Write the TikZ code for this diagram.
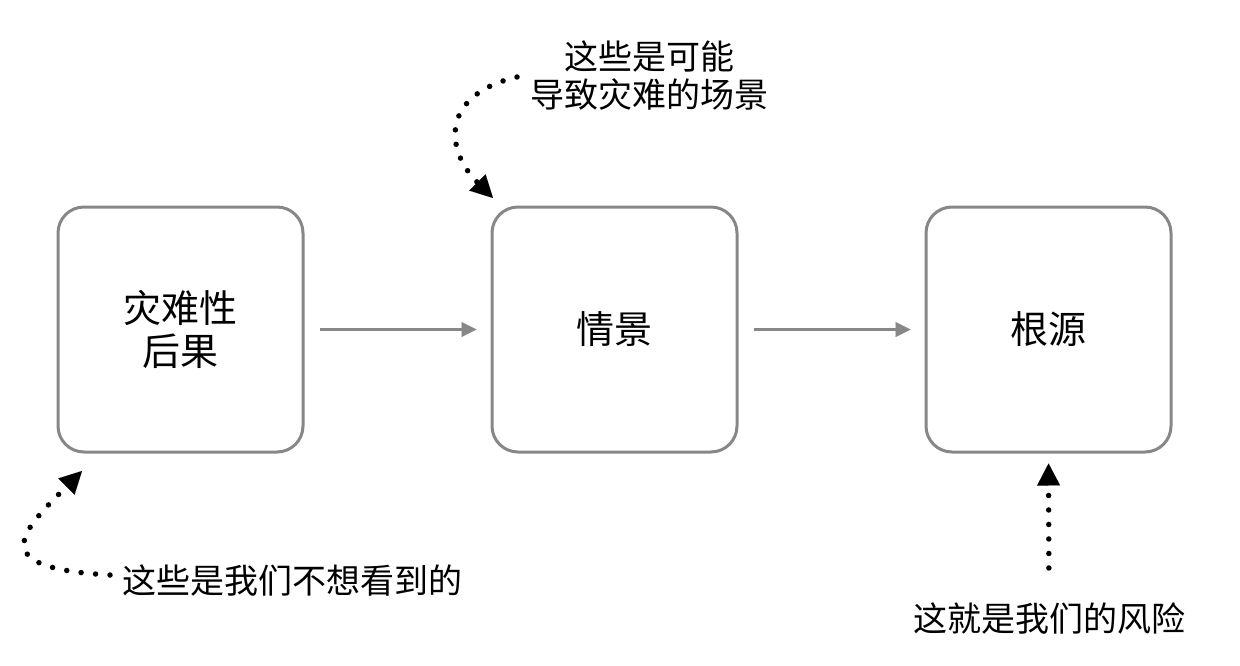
\documentclass[tikz,border=0pt]{standalone}
\usepackage{fontspec}
\setmainfont{Noto Sans CJK SC}
\usetikzlibrary{arrows.meta}
\begin{document}
\begin{tikzpicture}[x=1pt,y=-1pt,
  box/.style={draw=black!47,line width=3pt,rounded corners=26pt,minimum width=245pt,minimum height=245pt,inner sep=0pt,align=center,font=\fontsize{38}{43}\selectfont},
  lab/.style={inner sep=0pt,align=center,font=\fontsize{34}{38}\selectfont},
  flow/.style={draw=black!47,line width=3pt,-{Triangle[length=15pt,width=15pt,line width=0.01pt]}},
  dotarrow/.style={line width=5.5pt,line cap=round,dash pattern=on 0pt off 14.5pt,-{Triangle[length=22pt,width=23pt,line width=0.01pt]}}]
\useasboundingbox (0,0) rectangle (1240,666);
\node[box] (b1) at (180.5,329.5) {灾难性\\后果};
\node[box] (b2) at (614.5,329.5) {情景};
\node[box] (b3) at (1048.5,329.5) {根源};
\draw[flow,shorten <=15pt,shorten >=14pt] (b1.east) -- (b2.west);
\draw[flow,shorten <=15pt,shorten >=14pt] (b2.east) -- (b3.west);
\node[lab] (l1) at (292.5,581) {这些是我们不想看到的};
\node[lab] (l2) at (649,76) {这些是可能\\导致灾难的场景};
\node[lab] (l3) at (1049,619) {这就是我们的风险};
\coordinate (s1) at (110,575);
\coordinate (t1) at (82,471);
\coordinate (s2) at (517,77);
\coordinate (t2) at (493,198);
\draw[dotarrow] (s1) .. controls (-15,568) and (20,533) .. (t1);
\draw[dotarrow] (s2) .. controls (440,95) and (445,150) .. (t2);
\draw[dotarrow,shorten <=35pt,shorten >=10pt] (l3.north) -- (b3.south);
\end{tikzpicture}
\end{document}
